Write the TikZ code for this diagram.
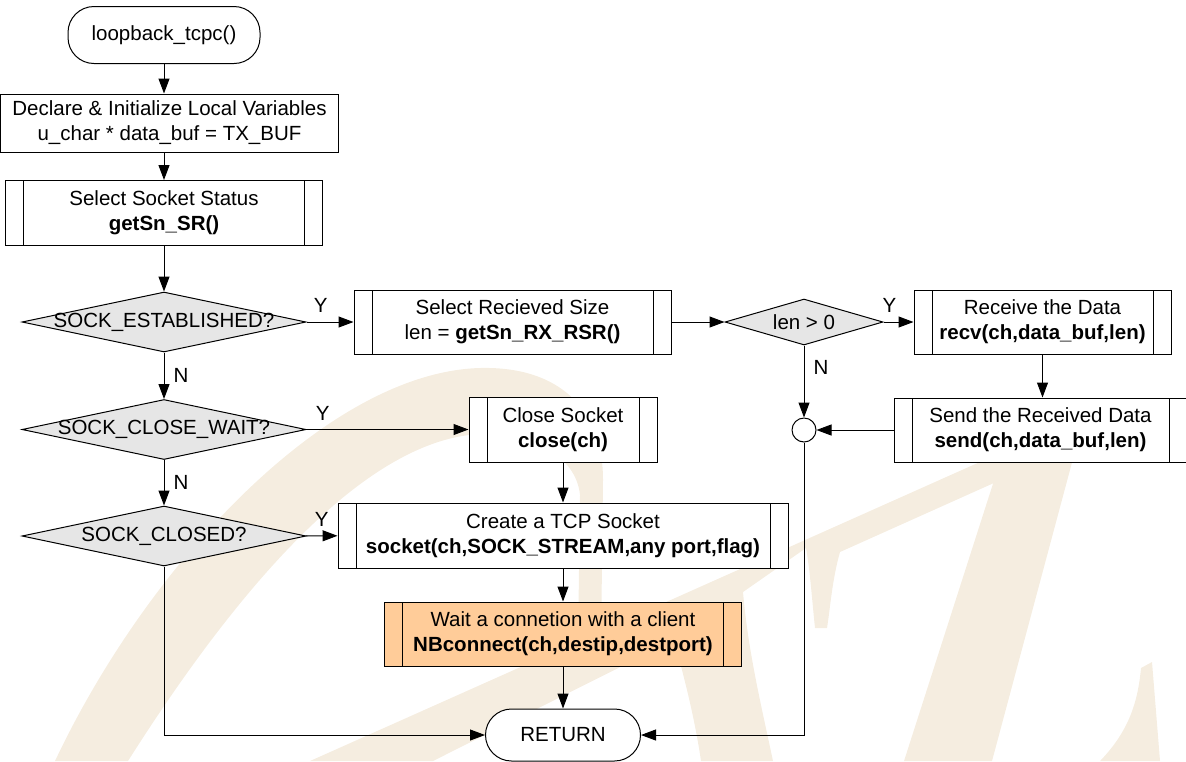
\documentclass[tikz,border=0pt]{standalone}
\usepackage{fontspec}
\setmainfont{Liberation Sans}
\usetikzlibrary{shapes.geometric,arrows.meta}
\definecolor{wmark}{RGB}{245,237,224}
\definecolor{waitfill}{RGB}{255,204,153}
\definecolor{decfill}{RGB}{230,230,230}
\tikzset{
  term/.style={draw, rectangle, rounded corners=13pt, fill=white, inner sep=0pt},
  proc/.style={draw, rectangle, fill=white, align=center, inner sep=0pt},
  subproc/.style={proc, path picture={
      \draw ([xshift=9pt]path picture bounding box.north west) -- ([xshift=9pt]path picture bounding box.south west);
      \draw ([xshift=-9pt]path picture bounding box.north east) -- ([xshift=-9pt]path picture bounding box.south east);}},
  decision/.style={draw, diamond, fill=decfill, inner sep=0pt},
  junction/.style={draw, circle, fill=white, minimum size=12pt, inner sep=0pt},
  lbl/.style={inner sep=4.5pt}
}
\begin{document}
\begin{tikzpicture}[x=0.5pt, y=-0.5pt, line width=0.5pt, font=\fontsize{10.25}{12.5}\selectfont,
  >={Triangle[length=7.5pt,width=5.5pt]}]
\useasboundingbox (0,0) rectangle (1186,761);
\fill[wmark] (55,761) .. controls (150,560) and (330,372) .. (480,368) .. controls (560,366) and (603,410) .. (603,480)
  -- (601,645) -- (578,645) -- (580,495) .. controls (576,455) and (530,432) .. (480,434)
  .. controls (360,440) and (230,600) .. (128,761) -- cycle;
\fill[wmark] (310,761) -- (1000,453) -- (1005,478) -- (840,552) .. controls (832,580) and (830,610) .. (827,628)
  -- (815,628) .. controls (812,600) and (810,570) .. (806,548) -- (743,592)
  .. controls (748,650) and (760,700) .. (773,761) -- (701,761) .. controls (695,720) and (685,680) .. (674,640)
  -- (433,761) -- cycle;
\fill[wmark] (1007,440) -- (1078,440) -- (992,761) -- (904,761) -- cycle;
\fill[wmark] (1141,668) -- (1152,662) -- (1160,761) -- (1100,761) .. controls (1130,730) and (1138,700) .. cycle;

\node[term, minimum width=96pt, minimum height=28.5pt] (start) at (164,35) {loopback\_tcpc()};
\node[proc, minimum width=169pt, minimum height=29pt] (decl) at (169.5,123) {Declare \& Initialize Local Variables\\u\_char * data\_buf = TX\_BUF};
\node[subproc, minimum width=158.5pt, minimum height=32.5pt] (status) at (164,213) {Select Socket Status\\\textbf{getSn\_SR()}};
\node[decision, minimum width=142pt, minimum height=30pt] (est) at (164,322) {\makebox[0pt]{SOCK\_ESTABLISHED?}};
\node[decision, minimum width=142pt, minimum height=30pt] (cwait) at (164,429.5) {\makebox[0pt]{SOCK\_CLOSE\_WAIT?}};
\node[decision, minimum width=142pt, minimum height=30pt] (closed) at (164,536) {\makebox[0pt]{SOCK\_CLOSED?}};
\node[subproc, minimum width=158.5pt, minimum height=32pt] (rsize) at (512.5,322) {Select Recieved Size\\len = \textbf{getSn\_RX\_RSR()}};
\node[decision, minimum width=79pt, minimum height=23pt] (lencheck) at (804,322) {\makebox[0pt]{len > 0}};
\node[subproc, minimum width=128.5pt, minimum height=32pt] (recv) at (1042.5,322) {Receive the Data\\\textbf{recv(ch,data\_buf,len)}};
\node[subproc, minimum width=146.5pt, minimum height=32pt] (send) at (1040.5,430) {Send the Received Data\\\textbf{send(ch,data\_buf,len)}};
\node[junction] (junc) at (804,430) {};
\node[subproc, minimum width=94pt, minimum height=32.5pt] (close) at (563,429.5) {Close Socket\\\textbf{close(ch)}};
\node[subproc, minimum width=225pt, minimum height=32.5pt] (create) at (563,535.5) {Create a TCP Socket\\\textbf{socket(ch,SOCK\_STREAM,any port,flag)}};
\node[subproc, fill=waitfill, minimum width=178.5pt, minimum height=32pt] (connect) at (563,634) {Wait a connetion with a client\\\textbf{NBconnect(ch,destip,destport)}};
\node[term, minimum width=77.5pt, minimum height=26pt] (ret) at (563,735) {RETURN};

\draw[->] (start) -- (start |- decl.north);
\draw[->] (start |- decl.south) -- (status);
\draw[->] (status) -- (est);
\draw[->] (est) -- (rsize) node[lbl, pos=0.3, above] {Y};
\draw[->] (est) -- (cwait) node[lbl, midway, right] {N};
\draw[->] (cwait) -- (close) node[lbl, pos=0.1, above] {Y};
\draw[->] (cwait) -- (closed) node[lbl, midway, right] {N};
\draw[->] (closed) -- (create) node[lbl, midway, above] {Y};
\draw[->] (closed) |- (ret);
\draw[->] (close) -- (create);
\draw[->] (create) -- (connect);
\draw[->] (connect) -- (ret);
\draw[->] (rsize) -- (lencheck);
\draw[->] (lencheck) -- (recv) node[lbl, pos=0.2, above] {Y};
\draw[->] (lencheck) -- (junc) node[lbl, pos=0.3, right] {N};
\draw[->] (recv) -- (send.north -| recv);
\draw[->] (send) -- (junc);
\draw[->] (junc) |- (ret);
\end{tikzpicture}
\end{document}
